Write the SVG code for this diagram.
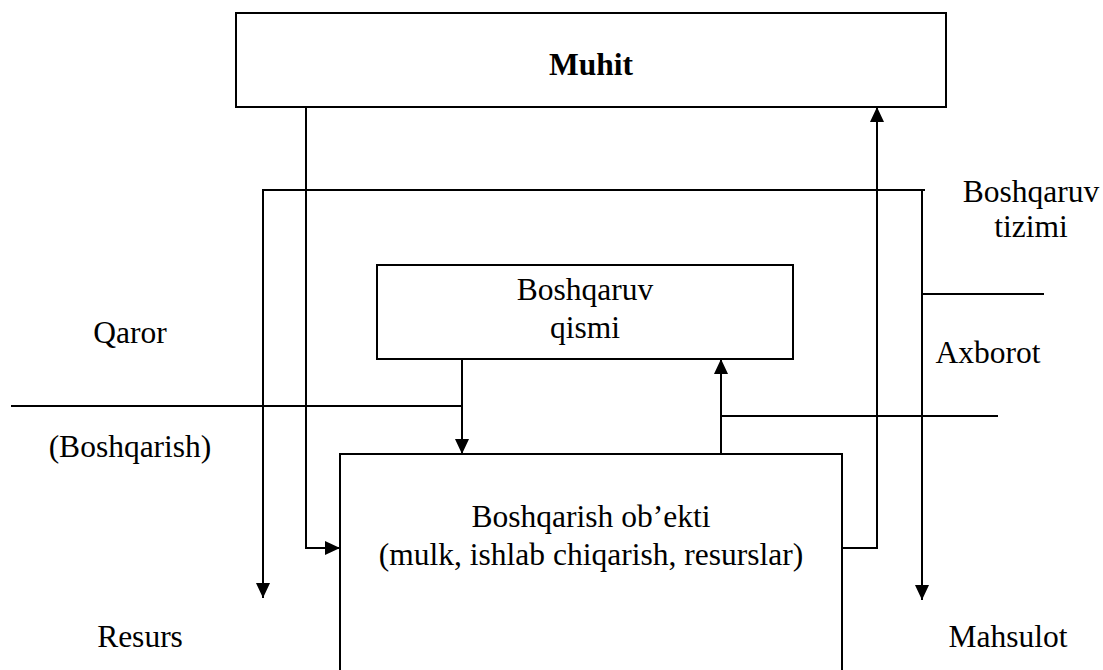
<svg xmlns="http://www.w3.org/2000/svg" width="1103" height="670" viewBox="0 0 1103 670">
  <style>
    .box { fill: #fff; stroke: #000; stroke-width: 2; }
    .wire { fill: none; stroke: #000; stroke-width: 2; }
    .lbl { font-family: "Liberation Serif", "Times New Roman", serif; font-size: 31.5px; fill: #000; text-anchor: middle; }
    .bold { font-weight: bold; }
  </style>
  <defs>
    <marker id="arrow" markerUnits="userSpaceOnUse" markerWidth="16" markerHeight="14" refX="15" refY="7" orient="auto">
      <path d="M0,0 L15,7 L0,14 z" fill="#000"/>
    </marker>
  </defs>
  <rect width="1103" height="670" fill="#fff"/>

  <!-- environment -->
  <g id="muhit">
    <rect class="box" x="236" y="13" width="710" height="94"/>
    <text class="lbl bold" x="591" y="75">Muhit</text>
  </g>

  <!-- control part -->
  <g id="boshqaruv-qismi">
    <rect class="box" x="377" y="265" width="416" height="94"/>
    <text class="lbl" x="585" y="300">Boshqaruv</text>
    <text class="lbl" x="585" y="338">qismi</text>
  </g>

  <!-- controlled object -->
  <g id="boshqarish-obekti">
    <rect class="box" x="340" y="454" width="502" height="240"/>
    <text class="lbl" x="591" y="527">Boshqarish ob’ekti</text>
    <text class="lbl" x="591" y="565">(mulk, ishlab chiqarish, resurslar)</text>
  </g>

  <!-- connectors -->
  <g id="connectors">
    <!-- control system frame -->
    <line class="wire" x1="263" y1="190" x2="925" y2="190"/>
    <line class="wire" x1="263" y1="189" x2="263" y2="598" marker-end="url(#arrow)"/>
    <line class="wire" x1="922" y1="189" x2="922" y2="600" marker-end="url(#arrow)"/>
    <line class="wire" x1="922" y1="294" x2="1044" y2="294"/>
    <!-- environment to object -->
    <polyline class="wire" points="306,107 306,548 340,548" marker-end="url(#arrow)"/>
    <!-- object to environment -->
    <polyline class="wire" points="842,548 877,548 877,107" marker-end="url(#arrow)"/>
    <!-- decision -->
    <line class="wire" x1="11" y1="406" x2="462" y2="406"/>
    <line class="wire" x1="462" y1="359" x2="462" y2="454" marker-end="url(#arrow)"/>
    <!-- information -->
    <line class="wire" x1="721" y1="416" x2="998" y2="416"/>
    <line class="wire" x1="721" y1="454" x2="721" y2="359" marker-end="url(#arrow)"/>
  </g>

  <!-- free labels -->
  <g id="labels">
    <text class="lbl" x="130" y="343">Qaror</text>
    <text class="lbl" x="130" y="457">(Boshqarish)</text>
    <text class="lbl" x="140" y="647">Resurs</text>
    <text class="lbl" x="1008" y="647">Mahsulot</text>
    <text class="lbl" x="988" y="363">Axborot</text>
    <text class="lbl" x="1031" y="202">Boshqaruv</text>
    <text class="lbl" x="1031" y="237">tizimi</text>
  </g>
</svg>
